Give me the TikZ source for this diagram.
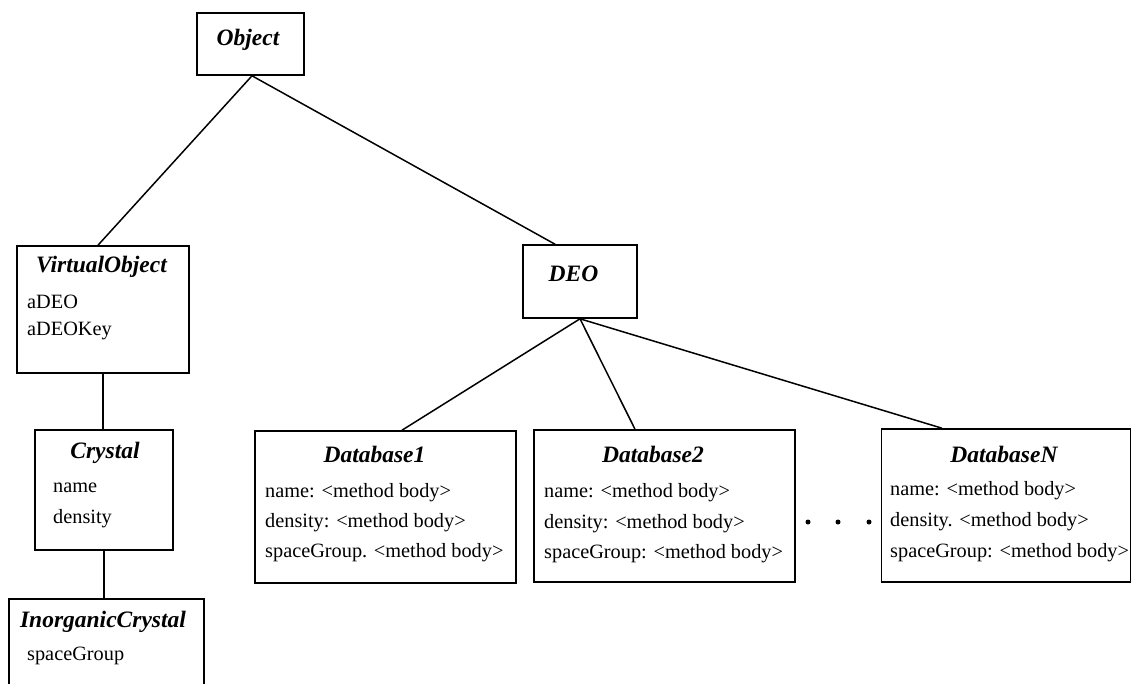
\documentclass[tikz,border=0pt]{standalone}
\usepackage{fontspec}
\setmainfont{Liberation Serif}
\begin{document}
\begin{tikzpicture}[x=1pt,y=-1pt,
  box/.style={draw, line width=1.6pt, inner sep=0pt, rectangle},
  title/.style={anchor=base, inner sep=0pt, font=\fontsize{23.5}{28}\selectfont\bfseries\itshape},
  attr/.style={anchor=base west, inner sep=0pt, font=\fontsize{20.3}{24}\selectfont},
  link/.style={line width=1.5pt},
  dot/.style={circle, fill=black, inner sep=0pt, minimum size=5pt}]
\useasboundingbox (0,0) rectangle (1132,683);
\clip (0,0) rectangle (1132,683);

% class boxes
\node[box, minimum width=107pt, minimum height=62pt]  (obj)   at (250.5,44)   {};
\node[box, minimum width=172pt, minimum height=127pt] (vo)    at (103,309.5)  {};
\node[box, minimum width=138pt, minimum height=120pt] (cry)   at (104,490)    {};
\node[box, minimum width=195pt, minimum height=121pt] (inorg) at (106.5,659.5){};
\node[box, minimum width=114pt, minimum height=73pt]  (deo)   at (580,281.5)  {};
\node[box, minimum width=261pt, minimum height=152pt] (db1)   at (385.5,507)  {};
\node[box, minimum width=261pt, minimum height=152pt] (db2)   at (664.5,506)  {};
\node[box, minimum width=249pt, minimum height=153pt] (dbn)   at (1006,505.5) {};

% titles and attributes
\node[title] (tobj) at (248,45) {Object};

\node[title] (tvo) at (101.5,272) {VirtualObject};
\node[attr] (vo1) at (27,308) {aDEO};
\node[attr] (vo2) at (27,335) {aDEOKey};

\node[title] (tcry) at (105,458) {Crystal};
\node[attr] (cry1) at (53,492) {name};
\node[attr] (cry2) at (53,523) {density};

\node[title] (tinorg) at (103,627) {InorganicCrystal};
\node[attr] (inorg1) at (27,660) {spaceGroup};

\node[title] (tdeo) at (573.5,281) {DEO};

\node[title] (tdb1) at (374.5,462) {Database1};
\node[attr] (db1a) at (265,497) {name: <method body>};
\node[attr] (db1b) at (265,527) {density: <method body>};
\node[attr] (db1c) at (265,557) {spaceGroup. <method body>};

\node[title] (tdb2) at (653,462) {Database2};
\node[attr] (db2a) at (544,497) {name: <method body>};
\node[attr] (db2b) at (544,528) {density: <method body>};
\node[attr] (db2c) at (544,558) {spaceGroup: <method body>};

\node[title] (tdbn) at (1004,462) {DatabaseN};
\node[attr] (dbna) at (890,495) {name: <method body>};
\node[attr] (dbnb) at (890,526) {density. <method body>};
\node[attr] (dbnc) at (890,557) {spaceGroup: <method body>};

% ellipsis between the database classes
\node[dot] (d1) at (808,522) {};
\node[dot] (d2) at (838,522) {};
\node[dot] (d3) at (869,522) {};

% inheritance links
\draw[link] ([xshift=1.5pt]obj.south) -- ([xshift=-5pt]vo.north);
\draw[link] ([xshift=1.5pt]obj.south) -- ([xshift=-25pt]deo.north);
\draw[link] (vo.south) -- (vo.south |- cry.north);
\draw[link] (cry.south) -- (cry.south |- inorg.north);
\draw[link] (deo.south) -- ([xshift=16.5pt]db1.north);
\draw[link] (deo.south) -- ([xshift=-29.5pt]db2.north);
\draw[link] (deo.south) -- ([xshift=-64pt]dbn.north);
\end{tikzpicture}
\end{document}
